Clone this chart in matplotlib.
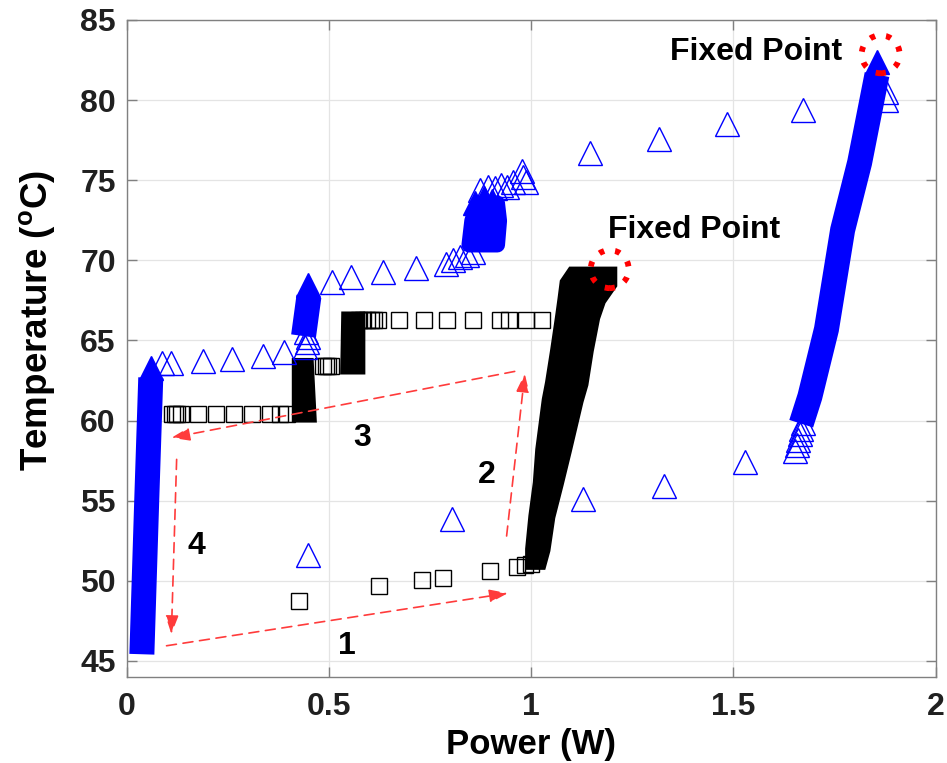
import matplotlib.pyplot as plt
from matplotlib.patches import Ellipse

plt.rcParams['font.family'] = ['Liberation Sans', 'DejaVu Sans']
plt.rcParams['mathtext.fontset'] = 'custom'
plt.rcParams['mathtext.bf'] = 'Liberation Sans:bold'
plt.rcParams['mathtext.rm'] = 'Liberation Sans:bold'

# ------------------- black squares (single markers) --------------------
sq_low_x = [0.426, 0.624, 0.731, 0.782, 0.897, 0.964, 0.984, 1.000]
sq_low_y = [48.75, 49.65, 50.04, 50.2, 50.6, 50.85, 51.0, 51.05]

sq_r60_x = [0.111, 0.118, 0.124, 0.134, 0.176, 0.220, 0.265, 0.309, 0.354, 0.378, 0.396]
sq_r60_y = [60.4] * len(sq_r60_x)

sq_r63_x = [0.486, 0.492, 0.498, 0.505]
sq_r63_y = [63.4] * len(sq_r63_x)

sq_r66_x = [0.575, 0.585, 0.595, 0.603, 0.611, 0.620, 0.672, 0.734, 0.791,
            0.855, 0.922, 0.944, 0.986, 1.026]
sq_r66_y = [66.3] * len(sq_r66_x)

# dense black bands: temperature level, leftmost and rightmost marker centre
band_a_y = [51.26, 52.0, 54.05, 56.13, 58.2, 61.3, 62.35, 64.43, 66.5, 67.6, 68.58, 69.1]
band_a_l = [1.005, 1.005, 1.013, 1.024, 1.030, 1.046, 1.054, 1.067, 1.079, 1.085, 1.090, 1.104]
band_a_r = [1.017, 1.025, 1.037, 1.058, 1.078, 1.107, 1.119, 1.132, 1.148, 1.163, 1.190, 1.190]

band_b_y = [60.45, 63.4]
band_b_l = [0.428, 0.428]
band_b_r = [0.446, 0.440]

band_c_y = [63.45, 66.3]
band_c_l = [0.548, 0.550]
band_c_r = [0.567, 0.567]

# ------------------- blue triangles (single markers) --------------------
tri_r63_x = [0.086, 0.110, 0.189, 0.261, 0.337, 0.388]
tri_r63_y = [63.6, 63.6, 63.7, 63.85, 64.05, 64.3]

tri_r69_x = [0.506, 0.553, 0.634, 0.714, 0.790, 0.807, 0.823, 0.840, 0.856]
tri_r69_y = [68.68, 68.99, 69.3, 69.51, 69.8, 70.03, 70.24, 70.34, 70.55]

tri_c44_x = [0.440, 0.445, 0.448, 0.443]
tri_c44_y = [64.6, 64.9, 65.2, 65.5]

tri_c88_x = [0.873, 0.893, 0.910, 0.925, 0.940, 0.955, 0.976, 0.980, 0.988]
tri_c88_y = [74.4, 74.6, 74.5, 74.7, 74.6, 74.9, 75.6, 75.2, 74.9]

tri_up_x = [1.145, 1.316, 1.484, 1.672, 1.878, 1.878]
tri_up_y = [76.7, 77.6, 78.5, 79.4, 80.0, 80.5]

tri_low_x = [0.448, 0.805, 1.127, 1.328, 1.528]
tri_low_y = [51.6, 53.84, 55.1, 55.9, 57.4]

tri_c2b_x = [1.652, 1.656, 1.660, 1.664, 1.668, 1.672]
tri_c2b_y = [58.1, 58.45, 58.8, 59.15, 59.5, 59.85]

# dense blue columns (centre line) and their top markers
col1_x = [0.038, 0.049, 0.058]
col1_y = [46.2, 55.0, 61.9]
col2_x = [1.677, 1.689, 1.730, 1.770, 1.812, 1.849]
col2_y = [60.55, 61.5, 65.7, 71.9, 76.1, 80.83]
col3_x = [0.441, 0.446]
col3_y = [66.05, 66.98]
top_x = [0.060, 0.448, 1.855, 0.862, 0.884, 0.903]
top_y = [63.3, 68.47, 82.36, 73.6, 73.9, 73.7]

# dense blue blob near 0.88 W
blob_y = [71.0, 72.5, 73.6]
blob_l = [0.845, 0.852, 0.866]
blob_r = [0.915, 0.920, 0.915]

# fixed points
fixed_x = [1.194, 1.864]
fixed_y = [69.45, 82.86]

# cycle arrows (start, end)
arr_x0 = [0.098, 0.939, 0.959, 0.123]
arr_y0 = [45.95, 52.8, 63.07, 57.58]
arr_x1 = [0.942, 0.984, 0.110, 0.110]
arr_y1 = [49.23, 62.93, 58.93, 46.68]
arr_lab = ['1', '2', '3', '4']

xticks = [0, 0.5, 1, 1.5, 2]
xtick_labels = ['0', '0.5', '1', '1.5', '2']
yticks = [45, 50, 55, 60, 65, 70, 75, 80, 85]


fig = plt.figure(figsize=(9.47, 7.63), dpi=100)
ax = fig.add_axes([0.134, 0.1127, 0.854, 0.8611])

sq = dict(marker='s', ms=11.5, mfc='none', mec='k', mew=1.0, ls='none', zorder=3)
for xs, ys in [(sq_low_x, sq_low_y), (sq_r60_x, sq_r60_y), (sq_r63_x, sq_r63_y), (sq_r66_x, sq_r66_y)]:
    ax.plot(xs, ys, **sq)

for by, bl, br in [(band_a_y, band_a_l, band_a_r), (band_b_y, band_b_l, band_b_r),
                   (band_c_y, band_c_l, band_c_r)]:
    ax.fill_betweenx(by, bl, br, color='k', lw=12.5, joinstyle='miter', zorder=3)

tri = dict(marker='^', ms=17, mfc='none', mec='b', mew=1.0, ls='none', zorder=4)
for xs, ys in [(tri_r63_x, tri_r63_y), (tri_r69_x, tri_r69_y), (tri_c44_x, tri_c44_y),
               (tri_c88_x, tri_c88_y), (tri_up_x, tri_up_y), (tri_low_x, tri_low_y),
               (tri_c2b_x, tri_c2b_y)]:
    ax.plot(xs, ys, **tri)

for xs, ys in [(col1_x, col1_y), (col2_x, col2_y), (col3_x, col3_y)]:
    ax.plot(xs, ys, color='b', lw=18, solid_capstyle='projecting', zorder=4)
ax.plot(top_x, top_y, marker='^', ms=17, mfc='b', mec='b', mew=1.0, ls='none', zorder=4)
ax.fill_betweenx(blob_y, blob_l, blob_r, color='b', lw=11, joinstyle='round', zorder=4)

for fx, fy in zip(fixed_x, fixed_y):
    ax.add_patch(Ellipse((fx, fy), 0.094, 2.37, fill=False, ec='red', lw=4.2,
                         ls=(0, (0.9, 1.9)), zorder=6))

for x0, y0, x1, y1 in zip(arr_x0, arr_y0, arr_x1, arr_y1):
    ax.annotate('', xy=(x1, y1), xytext=(x0, y0), zorder=5,
                arrowprops=dict(arrowstyle='-|>,head_length=0.7,head_width=0.25',
                                mutation_scale=16, color='#ff3b3b', lw=1.2,
                                ls=(0, (6, 4)), shrinkA=0, shrinkB=0))

lab_pos = [(0.543, 45.95), (0.891, 56.58), (0.582, 58.93), (0.172, 52.18)]
for s, (lx, ly) in zip(arr_lab, lab_pos):
    ax.text(lx, ly, s, fontsize=23, fontweight='bold', ha='center', va='center', zorder=7)

ax.text(1.342, 83.0, 'Fixed Point', fontsize=23, fontweight='bold', ha='left', va='center', zorder=7)
ax.text(1.189, 71.9, 'Fixed Point', fontsize=23, fontweight='bold', ha='left', va='center', zorder=7)

ax.set_xlim(0, 2)
ax.set_ylim(44, 85)
ax.set_xticks(xticks)
ax.set_xticklabels(xtick_labels)
ax.set_yticks(yticks)
ax.grid(True, color='#e4e4e4', lw=0.9)
ax.set_axisbelow(True)
ax.tick_params(direction='in', length=7, width=1, color='#808080', top=True, right=True,
               labelsize=23, pad=8, labelcolor='#202020')
ax.tick_params(axis='x', pad=11)
for lab in ax.get_xticklabels() + ax.get_yticklabels():
    lab.set_fontweight('bold')
for sp in ax.spines.values():
    sp.set_color('#808080')
    sp.set_linewidth(1.0)

ax.set_xlabel('Power (W)', fontsize=25, fontweight='bold', labelpad=4)
ax.set_ylabel(r'Temperature ($^{\mathbf{o}}$C)', fontsize=26.5, fontweight='bold')
ax.yaxis.set_label_coords(-0.085, 0.543)

fig.savefig('out.png', dpi=100)
